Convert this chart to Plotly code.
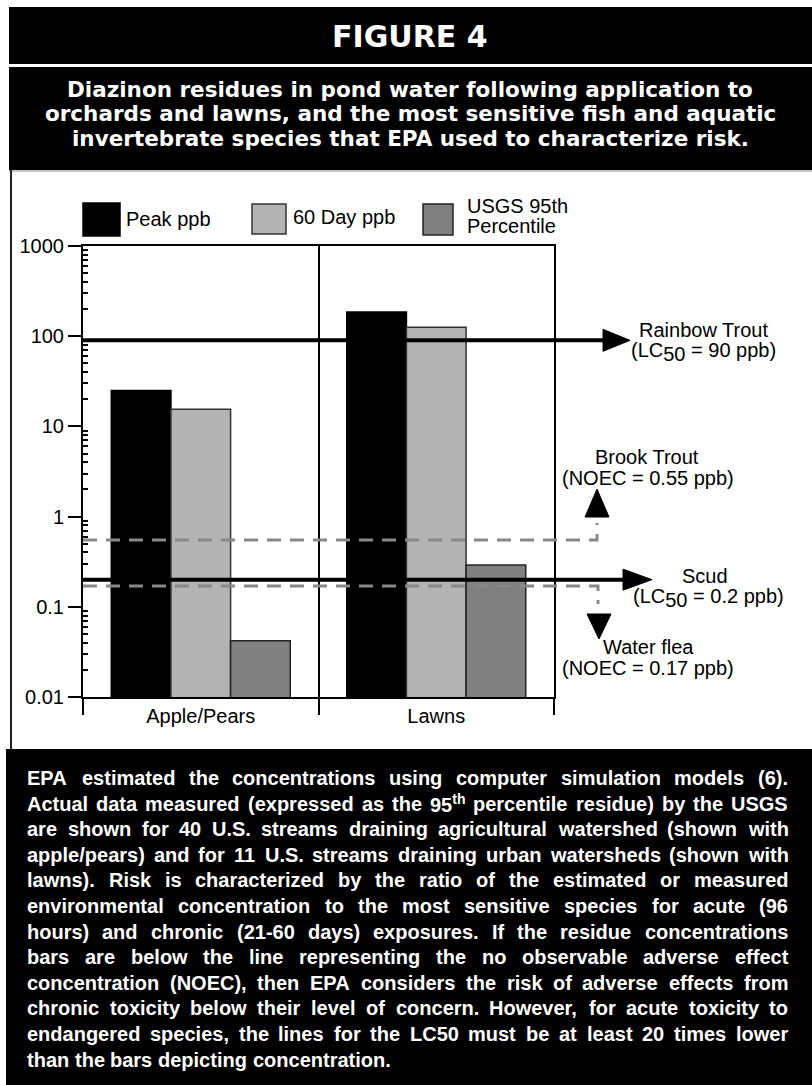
import plotly.graph_objects as go

# ---------------- data ----------------
categories = ["Apple/Pears", "Lawns"]
series_names = ["Peak ppb", "60 Day ppb", "USGS 95th Percentile"]
peak_ppb = [25, 185]
day60_ppb = [15.5, 126]
usgs95_ppb = [0.042, 0.29]

y_tickvals = [0.01, 0.1, 1, 10, 100, 1000]
y_ticktext = ["0.01", "0.1", "1", "10", "100", "1000"]

rainbow_trout_lc50 = 90
scud_lc50 = 0.2
brook_trout_noec = 0.55
water_flea_noec = 0.17

title_text = "FIGURE 4"
subtitle_lines = [
    "Diazinon residues in pond water following application to",
    "orchards and lawns, and the most sensitive fish and aquatic",
    "invertebrate species that EPA used to characterize risk.",
]
para_lines = [
    "EPA estimated the concentrations using computer simulation models (6).",
    "Actual data measured (expressed as the 95<sup>th</sup> percentile residue) by the USGS",
    "are shown for 40 U.S. streams draining agricultural watershed (shown with",
    "apple/pears) and for 11 U.S. streams draining urban watersheds (shown with",
    "lawns). Risk is characterized by the ratio of the estimated or measured",
    "environmental concentration to the most sensitive species for acute (96",
    "hours) and chronic (21-60 days) exposures. If the residue concentrations",
    "bars are below the line representing the no observable adverse effect",
    "concentration (NOEC), then EPA considers the risk of adverse effects from",
    "chronic toxicity below their level of concern. However, for acute toxicity to",
    "endangered species, the lines for the LC50 must be at least 20 times lower",
    "than the bars depicting concentration.",
]

# ---------------- geometry helpers ----------------
W, H = 812, 1085
L, R, T, B = 83, 554, 246, 697   # plot area in pixels


def px(x):
    return (x - L) / (R - L)


def py(y):
    return (B - y) / (B - T)


FONT = "Liberation Sans, Arial, Helvetica, sans-serif"
HEAVY = "DejaVu Sans, Verdana, sans-serif"

# Arial Bold advance widths (per 1000 em) for justification
_w = {" ": 278, "!": 333, "(": 333, ")": 333, ",": 278, "-": 333, ".": 278,
      "/": 278, ":": 333, ";": 333}
for d in "0123456789":
    _w[d] = 556
for c, v in zip("ABCDEFGHIJKLMNOPQRSTUVWXYZ",
                [722, 722, 722, 722, 667, 611, 778, 722, 278, 556, 722, 611, 833,
                 722, 778, 667, 778, 722, 667, 611, 722, 667, 944, 667, 667, 611]):
    _w[c] = v
for c, v in zip("abcdefghijklmnopqrstuvwxyz",
                [556, 611, 556, 611, 556, 333, 611, 611, 278, 278, 556, 278, 889,
                 611, 611, 611, 611, 389, 556, 333, 611, 556, 778, 556, 556, 500]):
    _w[c] = v


def tw(s, size):
    return sum(_w.get(ch, 556) for ch in s) / 1000.0 * size


def word_w(word, size):
    if "<sup>" in word:
        base, sup = word.split("<sup>")
        sup = sup.replace("</sup>", "")
        return tw(base, size) + tw(sup, size * 0.7)
    return tw(word, size)


fig = go.Figure()

bar_colors = ["#000000", "#b3b3b3", "#808080"]
bar_lines = ["#000000", "#333333", "#222222"]
for name, vals, col, lc in zip(series_names, [peak_ppb, day60_ppb, usgs95_ppb], bar_colors, bar_lines):
    fig.add_trace(go.Bar(
        x=categories, y=vals, name=name,
        marker=dict(color=col, line=dict(color=lc, width=1.5)),
        showlegend=False,
    ))

shapes = []
annotations = []

# header bands
shapes.append(dict(type="rect", xref="paper", yref="paper", x0=px(9), x1=px(812),
                   y0=py(7), y1=py(64), fillcolor="black", line=dict(width=0), layer="below"))
shapes.append(dict(type="rect", xref="paper", yref="paper", x0=px(9), x1=px(812),
                   y0=py(67), y1=py(170), fillcolor="black", line=dict(width=0), layer="below"))
# chart box borders
shapes.append(dict(type="line", xref="paper", yref="paper", x0=px(9), x1=px(812),
                   y0=py(171), y1=py(171), line=dict(color="#8a8a8a", width=1), layer="below"))
shapes.append(dict(type="line", xref="paper", yref="paper", x0=px(11), x1=px(11),
                   y0=py(170), y1=py(749), line=dict(color="#222222", width=2), layer="below"))
# bottom band
shapes.append(dict(type="rect", xref="paper", yref="paper", x0=px(6), x1=px(812),
                   y0=py(749), y1=py(1085), fillcolor="black", line=dict(width=0), layer="below"))

# legend swatches (manual, large squares)
leg = [
    (83, 120, 203, 236, "#000000", "#000000"),
    (252, 286, 204, 234, "#b3b3b3", "#333333"),
    (423, 453, 204, 235, "#808080", "#222222"),
]
for x0, x1, y0, y1, fc, lc in leg:
    shapes.append(dict(type="rect", xref="paper", yref="paper", x0=px(x0), x1=px(x1),
                       y0=py(y0), y1=py(y1), fillcolor=fc, line=dict(color=lc, width=1.5)))
leg_text = [("Peak ppb", 125, 219), ("60 Day ppb", 292, 217),
            ("USGS 95th", 466, 206), ("Percentile", 466, 226)]
for t, x, y in leg_text:
    annotations.append(dict(text=t, xref="paper", yref="paper", x=px(x), y=py(y),
                            xanchor="left", yanchor="middle", showarrow=False,
                            borderpad=0, font=dict(family=FONT, size=20, color="black")))

# ---------------- reference lines ----------------
for val, x_end, base, tip, half in [(rainbow_trout_lc50, 523, 520, 547, 11),
                                    (scud_lc50, 543, 540, 569, 10.5)]:
    shapes.append(dict(type="line", xref="paper", yref="y", xsizemode="pixel", xanchor=0,
                       x0=0, x1=x_end, y0=val, y1=val, line=dict(color="black", width=4),
                       layer="above"))
    shapes.append(dict(type="path", xref="paper", yref="y", xsizemode="pixel", xanchor=0,
                       ysizemode="pixel", yanchor=val,
                       path=f"M {base} {half} L {tip} 0 L {base} {-half} Z",
                       fillcolor="black", line=dict(color="black", width=1), layer="above"))

dash_style = dict(color="#888888", width=3, dash="14px,9px")
shapes.append(dict(type="path", xref="paper", yref="y", xsizemode="pixel", xanchor=0,
                   ysizemode="pixel", yanchor=brook_trout_noec,
                   path="M 0 0 L 514 0 L 514 17", line=dash_style, layer="above"))
shapes.append(dict(type="path", xref="paper", yref="y", xsizemode="pixel", xanchor=0,
                   ysizemode="pixel", yanchor=brook_trout_noec,
                   path="M 502 23 L 526 23 L 514 51 Z", fillcolor="black",
                   line=dict(color="black", width=1), layer="above"))
shapes.append(dict(type="path", xref="paper", yref="y", xsizemode="pixel", xanchor=0,
                   ysizemode="pixel", yanchor=water_flea_noec,
                   path="M 0 0 L 515 0 L 515 -18", line=dash_style, layer="above"))
shapes.append(dict(type="path", xref="paper", yref="y", xsizemode="pixel", xanchor=0,
                   ysizemode="pixel", yanchor=water_flea_noec,
                   path="M 504 -28 L 528 -28 L 516 -53 Z", fillcolor="black",
                   line=dict(color="black", width=1), layer="above"))

SUB50 = "<sub><span style='font-size:20px'>50</span></sub>"
species_labels = [
    ("Rainbow Trout", 703, 330),
    (f"(LC{SUB50} = {rainbow_trout_lc50} ppb)", 703, 352),
    ("Brook Trout", 647, 457),
    (f"(NOEC = {brook_trout_noec} ppb)", 648, 478),
    ("Scud", 705, 576),
    (f"(LC{SUB50} = {scud_lc50} ppb)", 708, 598),
    ("Water flea", 648, 647),
    (f"(NOEC = {water_flea_noec} ppb)", 648, 668),
]
for t, x, y in species_labels:
    annotations.append(dict(text=t, xref="paper", yref="paper", x=px(x), y=py(y),
                            xanchor="center", yanchor="middle", showarrow=False,
                            borderpad=0, font=dict(family=FONT, size=20, color="black")))

# ---------------- header text ----------------
annotations.append(dict(text=title_text, xref="paper", yref="paper", x=px(410), y=py(36),
                        xanchor="center", yanchor="middle", showarrow=False,
                        font=dict(family=HEAVY, size=30, color="white", weight="bold")))
for i, line in enumerate(subtitle_lines):
    annotations.append(dict(text=line, xref="paper", yref="paper", x=px(410), y=py(90 + i * 24),
                            xanchor="center", yanchor="middle", showarrow=False,
                            font=dict(family=HEAVY, size=21.5, color="white", weight="bold")))

# ---------------- justified paragraph ----------------
PARA_LEFT, PARA_RIGHT = 27, 788
avail = PARA_RIGHT - PARA_LEFT
for i, line in enumerate(para_lines):
    words = line.split(" ")
    size = 20.0
    last = i == len(para_lines) - 1
    natural = sum(word_w(w, size) for w in words) + (len(words) - 1) * 0.25 * size
    if natural > avail:
        size = size * avail / natural
    widths = [word_w(w, size) for w in words]
    gap = 0.278 * size if last else (avail - sum(widths)) / (len(words) - 1)
    yc = 778 + i * 25.6
    x = PARA_LEFT
    for w, wd in zip(words, widths):
        annotations.append(dict(text=w, xref="paper", yref="paper", x=px(x), y=py(yc),
                                xanchor="left", yanchor="middle", showarrow=False,
                                borderpad=0, borderwidth=0,
                                font=dict(family=FONT, size=size, color="white", weight="bold")))
        x += wd + gap

minor_vals = [m * 10.0 ** e for e in range(-2, 3) for m in range(2, 10)]

fig.update_layout(
    width=W, height=H,
    margin=dict(l=L, r=W - R, t=T, b=H - B, pad=0),
    paper_bgcolor="white", plot_bgcolor="white",
    barmode="group", bargap=0.24, bargroupgap=0,
    showlegend=False,
    shapes=shapes, annotations=annotations,
    font=dict(family=FONT, size=20, color="black"),
    xaxis=dict(
        type="category", range=[-0.5, 1.5],
        showline=True, linecolor="black", linewidth=2, mirror=True,
        ticks="outside", ticklen=16, tickwidth=2, tickcolor="black",
        tickson="boundaries",
        showgrid=True, gridcolor="black", gridwidth=2,
        tickfont=dict(family=FONT, size=20, color="black"),
        zeroline=False, fixedrange=True,
    ),
    yaxis=dict(
        type="log", range=[-2, 3],
        tickmode="array", tickvals=y_tickvals, ticktext=y_ticktext,
        ticks="outside", ticklen=13, tickwidth=2, tickcolor="black",
        showline=True, linecolor="black", linewidth=2, mirror=True,
        showgrid=False, zeroline=False,
        tickfont=dict(family=FONT, size=20, color="black"),
        minor=dict(tickmode="array", tickvals=minor_vals, ticks="inside",
                   ticklen=5, tickwidth=1.5, tickcolor="black", showgrid=False),
        fixedrange=True,
    ),
)

fig.write_html(
    "out.html",
    config={"displayModeBar": False},
    post_script="document.body.style.margin='0px'; document.body.style.overflow='hidden';",
)
